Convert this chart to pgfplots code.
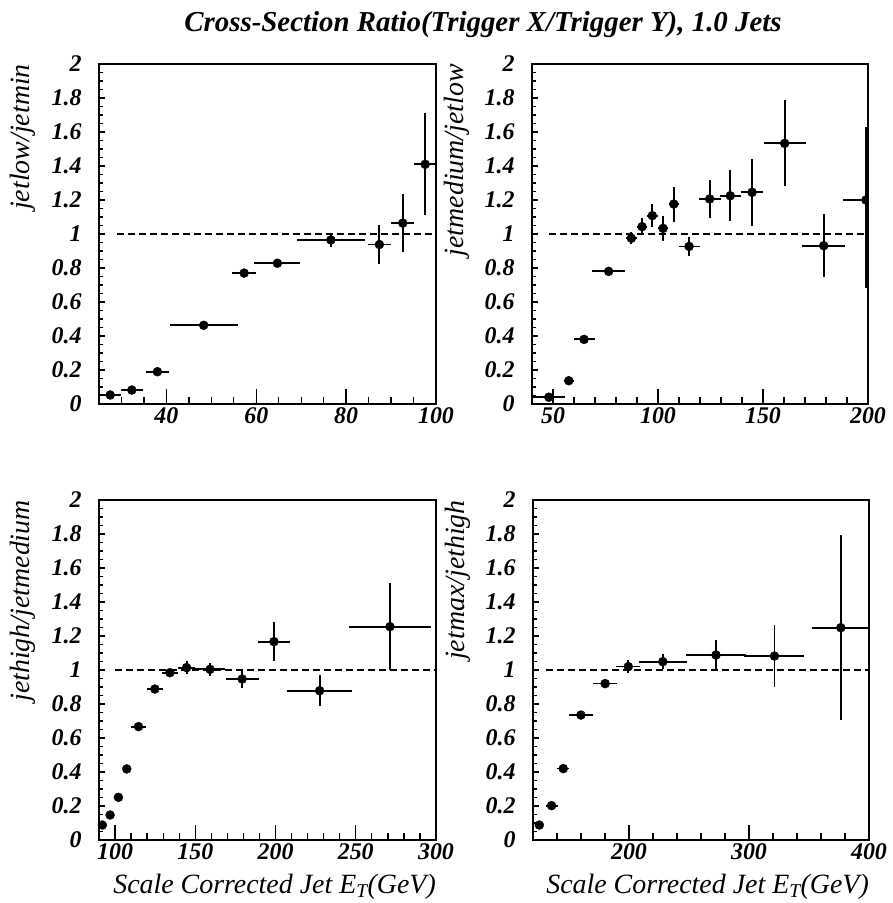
\documentclass[border=0pt]{standalone}
\usepackage{fontspec}
\setmainfont{Liberation Serif}
\usepackage{pgfplots}
\usepackage{pgfplotstable}
\pgfplotsset{compat=1.18}

\pgfplotstableread{
x y ex eyp eym
27.5 0.053 2.5 0 0
32.3 0.082 2.5 0 0
38.0 0.19 2.6 0 0
48.3 0.463 7.6 0 0
57.3 0.77 2.6 0 0
64.7 0.828 5.1 0 0
76.6 0.965 7.6 0.043 0.043
87.4 0.938 2.5 0.117 0.117
92.6 1.064 2.6 0.17 0.17
97.6 1.41 2.5 0.30 0.30
}\tabA
\pgfplotstableread{
x y ex eyp eym
48.0 0.04 7.8 0 0
57.5 0.137 2.5 0 0
64.8 0.38 5.0 0 0
76.5 0.78 7.7 0 0
87.3 0.975 2.5 0.035 0.035
92.4 1.043 2.5 0.05 0.05
97.3 1.108 2.5 0.068 0.068
102.4 1.033 2.5 0.074 0.074
107.5 1.176 2.5 0.103 0.103
114.8 0.927 5.0 0.056 0.056
124.6 1.206 5.2 0.113 0.113
134.4 1.225 5.0 0.15 0.15
144.8 1.245 5.1 0.196 0.196
160.3 1.533 10 0.253 0.253
178.9 0.931 10.3 0.185 0.185
199.0 1.2 11 0.43 0.52
}\tabB
\pgfplotstableread{
x y ex eyp eym
92.1 0.088 2.5 0 0
96.9 0.147 2.5 0 0
102.1 0.251 2.5 0 0
107.3 0.418 2.5 0 0
114.6 0.667 4.8 0 0
124.8 0.888 5.0 0 0
134.2 0.984 5.0 0.02 0.02
144.6 1.014 5.4 0.04 0.04
159.2 1.004 9.5 0.04 0.04
179.2 0.947 10.2 0.054 0.054
199.0 1.167 10.2 0.115 0.115
227.5 0.878 20.3 0.09 0.09
271.3 1.255 25.5 0.255 0.255
}\tabC
\pgfplotstableread{
x y ex eyp eym
125.3 0.088 3 0 0
135.5 0.202 5 0 0
145.2 0.42 5 0 0
159.9 0.735 10.3 0 0
180.1 0.92 10 0 0
199.4 1.02 10.1 0.04 0.04
228.2 1.049 20.2 0.045 0.045
272.5 1.088 25 0.086 0.086
321.2 1.082 25 0.183 0.183
376.5 1.249 24 0.546 0.546
}\tabD

\pgfplotsset{
  panel/.style={scale only axis, ymin=0, ymax=2,
    axis line style={line width=1.6bp},
    tick pos=left, tick align=inside,
    /pgf/number format/assume math mode=true,
    tick label style={font=\fontsize{24}{26}\selectfont\bfseries\itshape},
    every tick/.style={black, line width=1.3bp},
    label style={font=\fontsize{28}{30}\selectfont\itshape}},
  xpanel/.style={panel, ytick=\empty,
    major tick length=15bp, minor tick length=7bp},
  ypanel/.style={panel, xtick=\empty,
    ytick={0,0.2,0.4,0.6,0.8,1,1.2,1.4,1.6,1.8,2},
    minor ytick={0,0.05,...,2},
    major tick length=6bp, minor tick length=3.5bp,
    yticklabel style={xshift=-14bp},
    ylabel style={at={(axis description cs:-0.225,1)}, anchor=east, inner sep=0pt}},
  xlab/.style={xlabel style={at={(axis description cs:1,0)}, anchor=base east, yshift=-53bp, inner sep=0pt}},
  pts/.style={black, only marks, mark=*, mark size=4.5bp,
    error bars/.cd, x dir=both, x explicit, y dir=both, y explicit,
    error mark=none, error bar style={line width=1.8bp, black}},
  ref/.style={black, line width=1.6bp, dash pattern=on 7bp off 4bp},
}

\begin{document}
\begin{tikzpicture}
\useasboundingbox (0,0) rectangle (893bp,903bp);

% Panel 1
\begin{axis}[xpanel, at={(99bp,499bp)}, anchor=south west, width=337bp, height=340bp,
  xmin=25, xmax=100, xtick={40,60,80,100}, minor xtick={25,30,...,100}]
\addplot[ref] coordinates {(29,1) (100,1)};
\addplot[pts] table[x=x, y=y, x error=ex, y error plus=eyp, y error minus=eym] {\tabA};
\end{axis}
\begin{axis}[ypanel, at={(99bp,499bp)}, anchor=south west, width=337bp, height=340bp,
  xmin=25, xmax=100, ylabel={jetlow/jetmin}]
\end{axis}

% Panel 2
\begin{axis}[xpanel, at={(532bp,499bp)}, anchor=south west, width=336bp, height=340bp,
  xmin=40, xmax=200, xtick={50,100,150,200}, minor xtick={40,50,...,200},
  clip marker paths=true]
\addplot[ref] coordinates {(48,1) (200,1)};
\addplot[pts] table[x=x, y=y, x error=ex, y error plus=eyp, y error minus=eym] {\tabB};
\end{axis}
\begin{axis}[ypanel, at={(532bp,499bp)}, anchor=south west, width=336bp, height=340bp,
  xmin=40, xmax=200, ylabel={jetmedium/jetlow}]
\end{axis}

% Panel 3
\begin{axis}[xpanel, xlab, at={(99bp,63bp)}, anchor=south west, width=337bp, height=340bp,
  xmin=90, xmax=300, xtick={100,150,200,250,300}, minor xtick={90,100,...,300},
  xlabel={Scale Corrected Jet E\textsubscript{T}(GeV)}]
\addplot[ref] coordinates {(100,1) (300,1)};
\addplot[pts] table[x=x, y=y, x error=ex, y error plus=eyp, y error minus=eym] {\tabC};
\end{axis}
\begin{axis}[ypanel, at={(99bp,63bp)}, anchor=south west, width=337bp, height=340bp,
  xmin=90, xmax=300, ylabel={jethigh/jetmedium}]
\end{axis}

% Panel 4
\begin{axis}[xpanel, xlab, at={(533bp,63bp)}, anchor=south west, width=336bp, height=340bp,
  xmin=120, xmax=400, xtick={200,300,400}, minor xtick={120,140,...,400},
  xlabel={Scale Corrected Jet E\textsubscript{T}(GeV)}]
\addplot[ref] coordinates {(131,1) (400,1)};
\addplot[pts] table[x=x, y=y, x error=ex, y error plus=eyp, y error minus=eym] {\tabD};
\end{axis}
\begin{axis}[ypanel, at={(533bp,63bp)}, anchor=south west, width=336bp, height=340bp,
  xmin=120, xmax=400, ylabel={jetmax/jethigh}]
\end{axis}

\node[font=\fontsize{29}{31}\selectfont\bfseries\itshape, anchor=base] at (483bp,871bp)
  {Cross-Section Ratio(Trigger X/Trigger Y), 1.0 Jets};
\end{tikzpicture}
\end{document}
